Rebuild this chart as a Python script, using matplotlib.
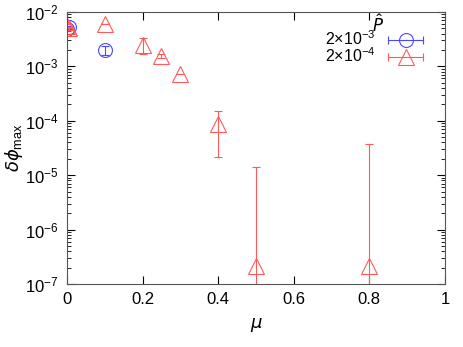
import numpy as np
import matplotlib
matplotlib.use('Agg')
import matplotlib.pyplot as plt
from matplotlib.lines import Line2D
from matplotlib.legend_handler import HandlerLine2D, HandlerTuple

plt.rcParams['font.family'] = ['Liberation Sans', 'DejaVu Sans']
plt.rcParams['mathtext.fontset'] = 'custom'
plt.rcParams['mathtext.rm'] = 'Liberation Sans'
plt.rcParams['mathtext.it'] = 'DejaVu Sans:italic'

# P-hat = 2e-3
mu_a = [0.0, 0.005, 0.1]
phi_a = [4.8e-3, 5.2e-3, 2.0e-3]
err_a = [0.4e-3, 0.4e-3, 0.35e-3]

# P-hat = 2e-4
mu_b = [0.0, 0.005, 0.1, 0.2, 0.25, 0.3, 0.4, 0.5, 0.8]
phi_b = [5.6e-3, 5.0e-3, 6.0e-3, 2.5e-3, 1.55e-3, 7.2e-4, 8.7e-5, 2.1e-7, 2.1e-7]
err_b = [0.5e-3, 0.4e-3, 0.0, 0.8e-3, 0.15e-3, 0.1e-4, 6.5e-5, 1.4e-5, 3.7e-5]

labels = [r'2$\times$10$^{-3}$', r'2$\times$10$^{-4}$']

blue = '#4848ff'
red = '#ff5a5a'

fig = plt.figure(figsize=(4.63, 3.47), dpi=100)
ax = fig.add_axes([0.1447, 0.1816, 0.8163, 0.7838])

ax.errorbar(mu_a, phi_a, yerr=err_a, fmt='o', ms=10, mfc='none', mec=blue,
            ecolor=blue, mew=0.8, elinewidth=0.8, capsize=3, capthick=0.8)
ax.errorbar(mu_b, phi_b, yerr=err_b, fmt='^', ms=11, mfc='none', mec=red,
            ecolor=red, mew=0.8, elinewidth=0.8, capsize=3, capthick=0.8)

ax.set_yscale('log')
ax.set_xlim(0, 1)
ax.set_ylim(1e-7, 1e-2)
ax.set_xticks([0, 0.2, 0.4, 0.6, 0.8, 1.0])
ax.set_xticklabels(['0', '0.2', '0.4', '0.6', '0.8', '1'])
ax.tick_params(which='both', direction='in', top=True, right=True, labelsize=12)
ax.tick_params(which='major', length=6, pad=6)
ax.tick_params(which='minor', length=3)
ax.set_xlabel(r'$\mu$', fontsize=13, labelpad=6)
ax.set_ylabel(r'$\delta\phi_{\rm max}$', fontsize=13, labelpad=0)
for s in ax.spines.values():
    s.set_color('#555555')

# gnuplot-style legend: horizontal error bar with marker, text on the left
handles = []
hmap = {}
for c, m, ms in [(blue, 'o', 10), (red, '^', 11)]:
    bar = Line2D([], [], color=c, lw=0.8, marker='|', ms=6, mew=0.8)
    mk = Line2D([], [], ls='none', marker=m, ms=ms, mfc='none', mec=c, mew=0.8)
    hmap[bar] = HandlerLine2D(numpoints=2)
    hmap[mk] = HandlerLine2D(numpoints=1)
    handles.append((bar, mk))
hmap[tuple] = HandlerTuple(ndivide=1)
leg = ax.legend(handles, labels, handler_map=hmap, loc='upper right',
                bbox_to_anchor=(0.955, 0.935), frameon=False, markerfirst=False,
                fontsize=11.5, handlelength=2.8, handletextpad=0.5,
                handleheight=0.6, borderpad=0, borderaxespad=0,
                labelspacing=-0.1)
ax.text(0.823, 0.993, r'$\hat{P}$', transform=ax.transAxes, fontsize=12,
        ha='center', va='top')

fig.savefig('out.png', dpi=100)
